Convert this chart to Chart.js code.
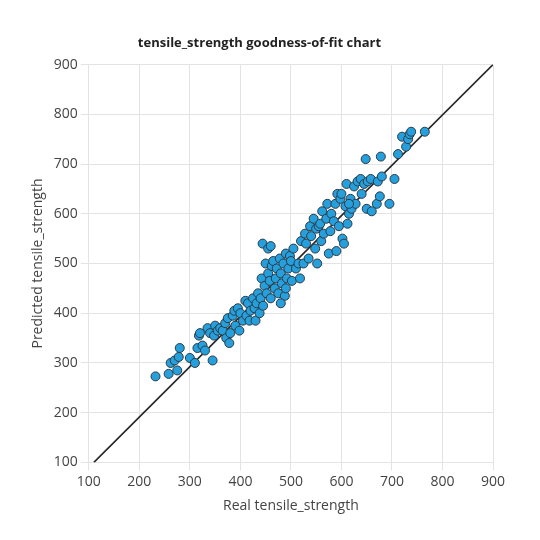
<!DOCTYPE html>
<html><head><meta charset="utf-8">
<script src="https://cdn.jsdelivr.net/npm/chart.js@4"></script>
<style>body{margin:0;background:#fff}#wrap{width:540px;height:540px}</style>
</head><body><div id="wrap"><canvas id="c"></canvas></div>
<script>
const realValues = [232,258,262,270,275,278,280,300,310,315,318,320,325,330,335,340,345,348,350,355,360,365,370,372,375,378,380,385,388,390,395,398,400,405,410,412,415,418,420,425,428,430,432,435,438,440,442,444,445,448,450,452,455,458,460,462,465,468,470,472,475,478,480,482,485,488,490,492,495,498,500,502,505,510,515,518,520,525,528,530,535,538,540,545,548,550,552,555,558,560,562,565,570,572,575,578,580,585,588,590,592,595,598,600,602,605,608,610,612,615,618,620,625,628,632,638,640,645,648,650,652,658,670,672,676,678,680,695,705,712,720,728,732,735,738,765,660,615,455,460,480,490];
const predictedValues = [273,278,300,305,285,312,330,310,300,330,355,360,335,325,370,360,305,355,375,365,370,365,380,350,390,340,360,395,405,375,410,365,400,385,425,395,420,385,405,430,410,385,420,440,400,430,470,540,415,455,500,440,480,465,430,495,505,450,470,490,440,510,480,460,500,435,520,470,490,515,505,465,530,490,500,470,545,500,560,540,510,575,555,590,530,570,500,575,580,545,605,560,590,620,520,565,600,585,620,525,640,575,630,640,550,540,615,660,580,600,630,610,655,620,665,670,640,660,710,610,665,670,620,665,635,715,675,620,670,720,755,735,750,760,765,765,605,620,530,535,420,450];
const fitLineX = [110, 900];
const fitLineY = [100, 900];
const axisTicks = [100,200,300,400,500,600,700,800,900];

const font = "'Open Sans', sans-serif";
new Chart(document.getElementById('c').getContext('2d'), {
  type: 'scatter',
  data: {
    datasets: [
      {
        type: 'line',
        data: fitLineX.map((x, i) => ({x: x, y: fitLineY[i]})),
        borderColor: '#262626', borderWidth: 1.6, pointRadius: 0, order: 2
      },
      {
        data: realValues.map((x, i) => ({x: x, y: predictedValues[i]})),
        backgroundColor: '#25a0dc', borderColor: '#2b3a46', borderWidth: 1,
        pointRadius: 4.5, order: 1
      }
    ]
  },
  options: {
    responsive: true, maintainAspectRatio: false, animation: false,
    layout: { padding: { left: 26, right: 47, top: 11, bottom: 22 } },
    plugins: {
      legend: { display: false }, tooltip: { enabled: false },
      title: { display: true, text: 'tensile_strength goodness-of-fit chart', color: '#222',
        font: { family: font, size: 13, weight: 'bold' }, padding: { top: 24, bottom: 14 } }
    },
    scales: {
      x: {
        min: 100, max: 900, afterBuildTicks: a => { a.ticks = axisTicks.map(v => ({value: v})); },
        grid: { color: '#e3e3e3' }, border: { color: '#e3e3e3' },
        ticks: { color: '#444', font: { family: font, size: 14 } },
        title: { display: true, text: 'Real tensile_strength', color: '#444', font: { family: font, size: 14 } }
      },
      y: {
        min: 100, max: 900, afterBuildTicks: a => { a.ticks = axisTicks.map(v => ({value: v})); },
        grid: { color: '#e3e3e3' }, border: { color: '#e3e3e3' },
        ticks: { color: '#444', font: { family: font, size: 14 } },
        title: { display: true, text: 'Predicted tensile_strength', color: '#444', font: { family: font, size: 14 } }
      }
    }
  }
});
</script></body></html>
